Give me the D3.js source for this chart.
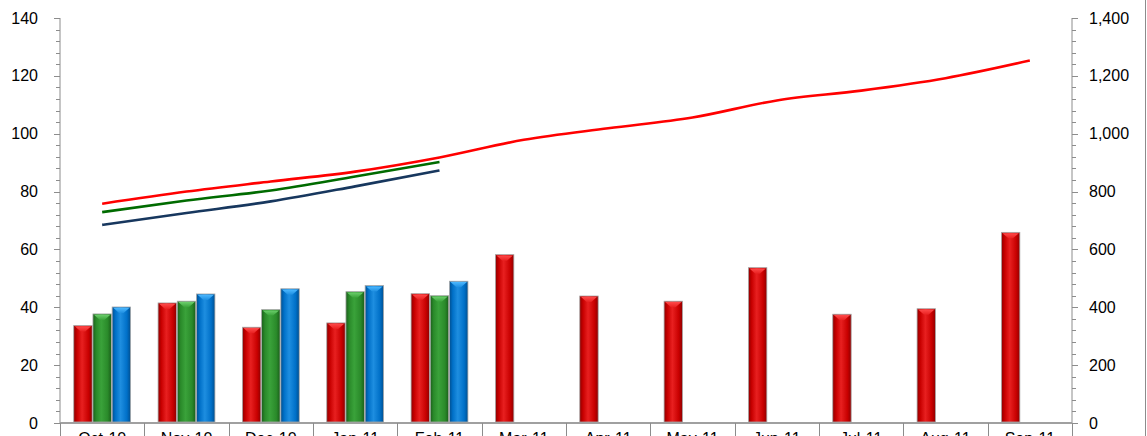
<!DOCTYPE html>
<html>
<head>
<meta charset="utf-8">
<script src="https://cdn.jsdelivr.net/npm/d3@7"></script>
<style>
  html, body { margin: 0; padding: 0; background: #fff; }
  svg { display: block; }
  text { font-family: "Liberation Sans", Arial, sans-serif; }
</style>
</head>
<body>
<svg id="chart" width="1147" height="436"></svg>
<script>
// ---- data ----
const months = ["Oct-10","Nov-10","Dec-10","Jan-11","Feb-11","Mar-11","Apr-11","May-11","Jun-11","Jul-11","Aug-11","Sep-11"];
const barRed   = [33.7, 41.5, 33.1, 34.6, 44.7, 58.2, 43.9, 42.1, 53.7, 37.6, 39.5, 65.9];
const barGreen = [37.7, 42.1, 39.2, 45.4, 44.0];
const barBlue  = [40.1, 44.6, 46.4, 47.5, 49.0];
const lineRed   = [758, 800, 835, 869, 918, 979, 1019, 1056, 1115, 1149, 1192, 1253];
const lineGreen = [729, 769, 804, 852, 902];
const lineNavy  = [685, 726, 766, 818, 873];
const leftTicks  = [0, 20, 40, 60, 80, 100, 120, 140];
const rightTicks = [0, 200, 400, 600, 800, 1000, 1200, 1400];

// ---- layout ----
const svg = d3.select("#chart");
const L = 60, R = 1072, T = 18, B = 423;

const x = d3.scaleBand().domain(months).range([L, R]).padding(0);
const bw = x.bandwidth();
const barSeries = ["red", "green", "blue"];
const xs = d3.scaleBand().domain(barSeries).range([bw * 0.163, bw * 0.837]).paddingInner(0.04);

const yL = d3.scaleLinear().domain([0, 140]).range([B, T]);
const yR = d3.scaleLinear().domain([0, 1400]).range([B, T]);

// ---- gradients ----
const defs = svg.append("defs");
const palette = {
  red:   { dark: "#8e0000", base: "#c80000", light: "#e82020", cap: "#ff4a4a" },
  green: { dark: "#1a5e1a", base: "#2a8a2a", light: "#3aa23a", cap: "#6ccf6c" },
  blue:  { dark: "#004f90", base: "#0070c8", light: "#1e8ee0", cap: "#4cb8ff" }
};
Object.entries(palette).forEach(([k, c]) => {
  const g = defs.append("linearGradient").attr("id", "grad-" + k)
    .attr("x1", "0%").attr("x2", "100%").attr("y1", "0%").attr("y2", "0%");
  g.append("stop").attr("offset", "0%").attr("stop-color", c.dark);
  g.append("stop").attr("offset", "18%").attr("stop-color", c.base);
  g.append("stop").attr("offset", "45%").attr("stop-color", c.light);
  g.append("stop").attr("offset", "80%").attr("stop-color", c.base);
  g.append("stop").attr("offset", "100%").attr("stop-color", c.dark);
  const cg = defs.append("linearGradient").attr("id", "cap-" + k)
    .attr("x1", "0%").attr("x2", "0%").attr("y1", "0%").attr("y2", "100%");
  cg.append("stop").attr("offset", "0%").attr("stop-color", c.cap);
  cg.append("stop").attr("offset", "100%").attr("stop-color", c.light);
});

// ---- left axis ----
const gL = svg.append("g");
gL.append("line").attr("x1", L).attr("x2", L).attr("y1", T).attr("y2", B)
  .attr("stroke", "#8c8c8c").attr("stroke-width", 1);
const minorL = d3.range(0, 141, 4);
gL.selectAll(".mnl").data(minorL).join("line")
  .attr("x1", L - 4).attr("x2", L).attr("y1", d => Math.round(yL(d)) + 0.5).attr("y2", d => Math.round(yL(d)) + 0.5)
  .attr("stroke", "#8c8c8c");
gL.selectAll(".mjl").data(leftTicks).join("line")
  .attr("x1", L - 6).attr("x2", L).attr("y1", d => Math.round(yL(d)) + 0.5).attr("y2", d => Math.round(yL(d)) + 0.5)
  .attr("stroke", "#8c8c8c");
gL.selectAll("text").data(leftTicks).join("text")
  .attr("x", 38).attr("y", d => yL(d)).attr("dy", "0.35em")
  .attr("text-anchor", "end").attr("font-size", 16).attr("fill", "#000")
  .text(d => d3.format(",")(d));

// ---- right axis ----
const gR = svg.append("g");
gR.append("line").attr("x1", R).attr("x2", R).attr("y1", T).attr("y2", B)
  .attr("stroke", "#8c8c8c").attr("stroke-width", 1);
const minorR = d3.range(0, 1401, 40);
gR.selectAll(".mnr").data(minorR).join("line")
  .attr("x1", R).attr("x2", R + 4).attr("y1", d => Math.round(yR(d)) + 0.5).attr("y2", d => Math.round(yR(d)) + 0.5)
  .attr("stroke", "#8c8c8c");
gR.selectAll(".mjr").data(rightTicks).join("line")
  .attr("x1", R).attr("x2", R + 6).attr("y1", d => Math.round(yR(d)) + 0.5).attr("y2", d => Math.round(yR(d)) + 0.5)
  .attr("stroke", "#8c8c8c");
gR.selectAll("text").data(rightTicks).join("text")
  .attr("x", 1089).attr("y", d => yR(d)).attr("dy", "0.35em")
  .attr("text-anchor", "start").attr("font-size", 16).attr("fill", "#000")
  .text(d => d3.format(",")(d));

// ---- bars ----
const barData = [];
months.forEach((m, i) => {
  barData.push({ m, s: "red", v: barRed[i] });
  if (i < barGreen.length) barData.push({ m, s: "green", v: barGreen[i] });
  if (i < barBlue.length) barData.push({ m, s: "blue", v: barBlue[i] });
});
const gb = svg.append("g");
const bars = gb.selectAll("g.bar").data(barData).join("g").attr("class", "bar");
bars.append("rect")
  .attr("x", d => x(d.m) + xs(d.s))
  .attr("y", d => yL(d.v))
  .attr("width", xs.bandwidth())
  .attr("height", d => yL(0) - yL(d.v) - 1)
  .attr("fill", d => `url(#grad-${d.s})`)
  .attr("stroke", "#a8a8a8").attr("stroke-width", 0.8);
bars.append("path")
  .attr("d", d => {
    const x0 = x(d.m) + xs(d.s), w = xs.bandwidth(), y0 = yL(d.v);
    return `M${x0 + 1},${y0 + 0.8} L${x0 + w - 1},${y0 + 0.8} L${x0 + w * 0.62},${y0 + 6} L${x0 + w * 0.38},${y0 + 6} Z`;
  })
  .attr("fill", d => `url(#cap-${d.s})`);

// ---- x axis ----
const gx = svg.append("g");
gx.append("line").attr("x1", L).attr("x2", R).attr("y1", B).attr("y2", B)
  .attr("stroke", "#a0a0a0").attr("stroke-width", 2);
gx.selectAll("line.sep").data(months.concat(["end"])).join("line").attr("class", "sep")
  .attr("x1", (d, i) => Math.round(i < months.length ? x(d) : R) + 0.5)
  .attr("x2", (d, i) => Math.round(i < months.length ? x(d) : R) + 0.5)
  .attr("y1", B).attr("y2", 436)
  .attr("stroke", "#8c8c8c");
gx.selectAll("text").data(months).join("text")
  .attr("x", d => x(d) + bw / 2).attr("y", 443.5)
  .attr("text-anchor", "middle").attr("font-size", 16).attr("fill", "#000")
  .text(d => d);

// ---- lines ----
const lineGen = d3.line().x(d => x(d.m) + bw / 2).y(d => yR(d.v)).curve(d3.curveMonotoneX);
const mk = arr => arr.map((v, i) => ({ m: months[i], v }));
svg.append("path").datum(mk(lineNavy)).attr("d", lineGen)
  .attr("fill", "none").attr("stroke", "#17375e").attr("stroke-width", 2.6);
svg.append("path").datum(mk(lineGreen)).attr("d", lineGen)
  .attr("fill", "none").attr("stroke", "#006b00").attr("stroke-width", 2.6);
svg.append("path").datum(mk(lineRed)).attr("d", lineGen)
  .attr("fill", "none").attr("stroke", "#ff0000").attr("stroke-width", 2.6);

// ---- chart border (right edge) ----
svg.append("line").attr("x1", 1145.5).attr("x2", 1145.5).attr("y1", 0).attr("y2", 436)
  .attr("stroke", "#8c8c8c");
</script>
</body>
</html>
